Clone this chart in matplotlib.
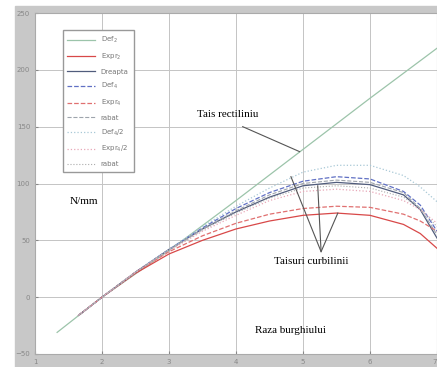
import numpy as np
import matplotlib
matplotlib.use('Agg')
import matplotlib.pyplot as plt
from matplotlib.patches import Rectangle

# drill radius values
x_line = [1.33, 2.0, 3.0, 4.0, 5.0, 6.0, 7.0]
y_line = [-31, 0, 41, 85, 130, 175, 219]

x_curve = [1.65, 2.0, 2.5, 3.0, 3.5, 4.0, 4.5, 5.0, 5.5, 6.0, 6.5, 6.75, 7.0]
red_solid = [-16, 0, 21, 38, 50, 60, 67, 72, 74, 72, 64, 56, 43]
dark_solid = [-16, 0, 22, 42, 60, 75, 88, 98, 101, 99, 90, 77, 52]
blue_dash = [-16, 0, 22, 42, 61, 78, 92, 102, 106, 104, 93, 81, 58]
red_dash = [-16, 0, 22, 40, 54, 65, 73, 78, 80, 79, 73, 67, 58]
gray_dash = [-16, 0, 22, 42, 60, 76, 90, 100, 103, 101, 92, 78, 55]
top_dot = [-16, 0, 22, 42, 62, 80, 96, 110, 116, 116, 107, 97, 84]
pink_dot = [-16, 0, 22, 41, 58, 72, 85, 93, 95, 93, 85, 77, 65]
gray_dot = [-16, 0, 22, 41, 59, 74, 87, 96, 98, 96, 88, 78, 62]

labels = ['Def$_2$', 'Expr$_2$', 'Dreapta', 'Def$_4$', 'Expr$_4$', 'rabat',
          'Def$_4$/2', 'Expr$_4$/2', 'rabat']

fig = plt.figure(figsize=(4.37, 3.67), dpi=100)
# gray window background behind the axes
fig.patches.append(Rectangle((15 / 437, 0), 1, 361 / 367, transform=fig.transFigure,
                             color='#c8c8c8', zorder=-10))
ax = fig.add_axes([35 / 437, 13 / 367, 402 / 437, 341 / 367])
ax.set_zorder(5)

ax.plot(x_line, y_line, color='#9cc4aa', lw=0.9, label=labels[0])
ax.plot(x_curve, red_solid, color='#d84848', lw=0.9, label=labels[1])
ax.plot(x_curve, dark_solid, color='#505c7c', lw=0.9, label=labels[2])
ax.plot(x_curve, blue_dash, color='#6070c4', lw=0.9, ls='--', label=labels[3])
ax.plot(x_curve, red_dash, color='#e07070', lw=0.9, ls='--', label=labels[4])
ax.plot(x_curve, gray_dash, color='#9ea4ac', lw=0.8, ls='--', label=labels[5])
ax.plot(x_curve, top_dot, color='#a8c8d6', lw=0.9, ls=':', label=labels[6])
ax.plot(x_curve, pink_dot, color='#e8a8b8', lw=0.9, ls=':', label=labels[7])
ax.plot(x_curve, gray_dot, color='#acacac', lw=0.8, ls=':', label=labels[8])

ax.set_xlim(1, 7)
ax.set_ylim(-50, 250)
ax.set_xticks(range(1, 8))
ax.set_yticks(range(-50, 251, 50))
ax.tick_params(labelsize=5, colors='#888888', length=2, direction='in')
ax.get_xticklabels()[-1].set_ha('right')
ax.grid(True, color='#c4c4c4', lw=0.7)
for s in ax.spines.values():
    s.set_color('#aaaaaa')

leg = ax.legend(loc='upper left', bbox_to_anchor=(0.06, 0.96), fontsize=5,
                handlelength=4, labelspacing=0.95, fancybox=False,
                framealpha=1, edgecolor='#999999', borderpad=0.7)
for t in leg.get_texts():
    t.set_color('#777777')

serif = 'Liberation Serif'
ax.text(3.87, 161, 'Tais rectiliniu', fontsize=8, family=serif, ha='center', va='center')
ax.plot([4.1, 4.95], [150, 128], color='#555555', lw=0.8)
ax.text(1.52, 84, 'N/mm', fontsize=8, family=serif, ha='left', va='center')
ax.text(5.12, 31, 'Taisuri curbilinii', fontsize=8, family=serif, ha='center', va='center')
ax.plot([4.82, 5.27, 5.52], [106, 40, 74], color='#555555', lw=0.8)
ax.plot([5.27, 5.22], [40, 98], color='#555555', lw=0.8)
ax.text(4.82, -29, 'Raza burghiului', fontsize=8, family=serif, ha='center', va='center')

fig.savefig('out.png', dpi=100)
